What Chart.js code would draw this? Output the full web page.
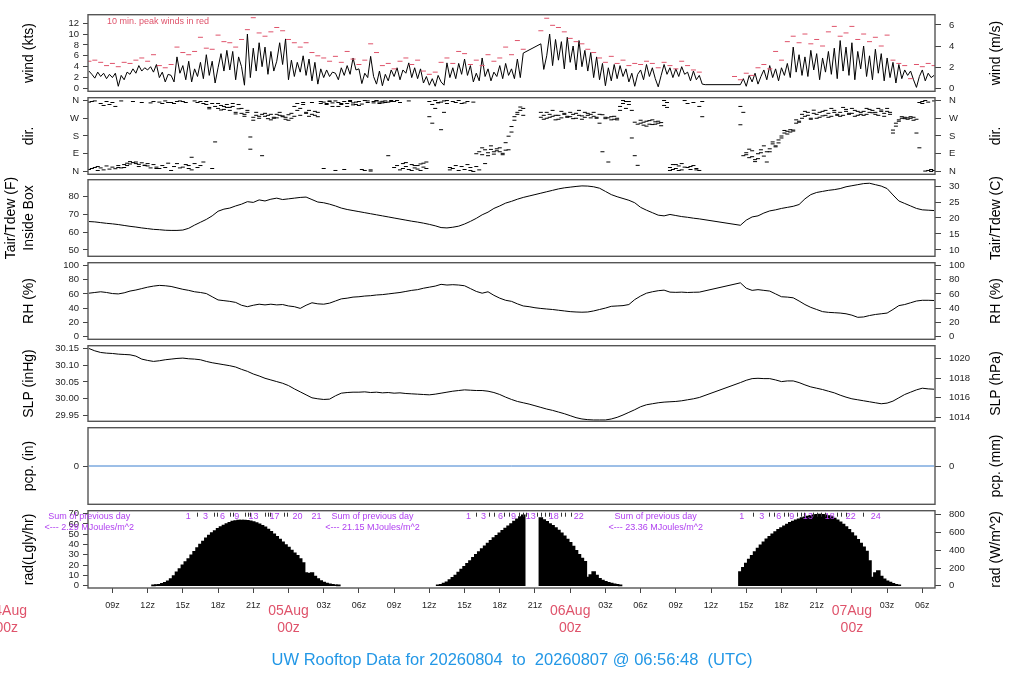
<!DOCTYPE html>
<html>
<head>
<meta charset="utf-8">
<title>UW Rooftop Data</title>
<script src="https://cdn.jsdelivr.net/npm/chart.js@4.4.1/dist/chart.umd.min.js"></script>
<style>
  html, body { margin:0; padding:0; background:#ffffff; }
  body { position:relative; width:1024px; height:700px; overflow:hidden; }
  canvas { position:absolute; left:0; }
</style>
</head>
<body>
<script>
// ================= DATA (time = hours since 04Aug 00z) =================
const startHour = 7.0;
const fineStep = 0.25;   // wind / direction / radiation sampling
const coarseStep = 0.5;  // peak wind / temperature / RH / pressure sampling

// mean wind (kts), every 15 min from 04Aug 07z
const windKts = [
3.2,2.6,1.9,3.0, 2.2,2.8,1.8,2.6, 2.0,2.8,0.4,2.4, 1.6,3.0,2.6,3.6,
2.8,4.2,3.2,3.8, 3.4,4.0,3.0,4.4, 2.0,3.0,1.2,2.6, 2.4,1.2,5.8,2.8,
4.2,1.6,5.0,1.2, 3.6,2.2,4.8,1.8, 6.2,2.4,5.0,1.0, 3.8,6.4,3.2,7.0,
3.4,6.8,1.6,5.8, 4.0,0.6,10.0,2.0, 7.4,3.2,8.4,4.0, 7.6,2.6,6.8,3.2,
5.0,8.4,4.4,9.1, 1.6,5.2,2.2,4.8, 3.0,6.0,2.4,5.4, 1.4,4.8,0.8,3.6,
2.0,3.4,2.2,3.0, 2.8,1.6,3.8,2.4, 4.2,2.6,5.6,3.4, 3.6,0.9,2.8,2.0,
5.9,2.2,0.8,3.2, 0.5,2.6,1.4,3.4, 2.2,3.8,1.6,3.4, 2.8,4.7,2.0,3.8,
1.8,3.6,1.0,2.2, 0.6,1.8,0.4,2.4, 1.2,0.6,4.7,2.0, 3.8,1.8,4.6,2.6,
5.4,2.4,4.2,1.2, 2.8,1.4,5.6,2.2, 3.6,1.4,3.0,2.2, 4.2,1.8,4.6,2.4,
3.6,1.8,5.4,2.0, 6.5,null,null,null, null,null,8.2,3.5, 6.0,10.0,4.2,9.0,
5.2,8.6,3.6,9.4, 4.8,7.8,3.4,8.8, 4.0,7.0,3.2,6.6, 2.0,5.8,1.6,4.6,
0.5,3.8,1.4,4.4, 1.8,4.2,2.2,3.6, 1.2,2.8,0.4,2.6, 3.4,1.6,4.4,2.2,
3.8,1.8,0.3,2.4, 4.4,2.6,3.8,2.0, 3.6,2.2,4.0,2.6, 3.0,1.4,3.2,1.6,
2.4,0.8,0.7,null, null,null,null,null, null,null,null,null, null,null,0.7,1.8,
0.4,2.4,1.2,2.8, 0.8,2.2,3.4,1.6, 4.2,2.0,3.6,1.4, 3.8,2.4,4.6,2.0,
7.6,3.0,6.2,2.4, 5.8,2.2,7.0,3.4, 6.4,1.6,5.6,3.0, 6.8,2.6,7.4,1.8,
8.8,3.2,7.6,2.4, 8.4,1.6,6.8,3.6, 7.8,2.2,6.0,1.6, 7.2,2.8,6.4,1.4,
5.6,2.0,4.8,1.0, 4.4,1.8,3.4,2.4, 3.2,1.6,0.2,2.2, 3.4,1.4,2.8,2.0,
2.4
];

// 10-min peak wind (kts), every 30 min
const peakKts = [
5.0,5.2,4.8,4.2, 4.6,4.0,4.8,4.6, 5.2,5.6,5.0,6.2, 4.2,3.8,4.4,7.6,
6.6,6.2,6.8,9.4, 7.4,7.2,9.8,8.6, 8.4,7.6,9.0,10.8, 13.0,10.2,9.6,10.4,
11.2,10.6,9.0,8.4, 7.6,8.4,6.6,6.0, 5.6,5.0,5.9,4.8, 6.8,5.4,4.4,5.2,
8.2,6.6,4.2,4.6, 3.6,5.0,5.6,4.4, 5.2,3.2,2.6,3.0, 4.8,5.6,4.6,6.8,
6.4,4.4,5.2,4.2, 6.2,5.0,5.6,7.6, 6.2,8.8,7.2,null, null,10.6,12.9,11.6,
11.2,10.4,9.2,8.6, 8.2,7.2,6.6,5.6, 4.8,5.9,4.6,5.2, 4.2,4.6,4.4,5.0,
4.6,3.8,4.8,4.2, 3.6,5.0,4.2,3.4, 3.0,null,null,null, null,null,2.2,1.6,
2.8,2.4,3.8,4.4, 3.6,6.8,5.2,8.6, 9.6,8.4,10.0,8.2, 9.0,7.8,10.4,11.4,
9.6,10.2,11.4,9.0, 10.0,8.6,9.4,7.8, 9.8,5.2,4.6,4.2, 1.8,4.4,4.0,4.6,
4.2
];

// wind direction (degrees), two samples every 15 min
const dirA = [
10,355,20,5, 18,8,28,12, 22,14,30,18, 35,42,38,45, 40,36,44,32, 28,18,35,22,
15,30,20,42, 350,25,355,18, 22,35,15,72, 40,20,30,48, 340,325,15,150, 320,335,315,325,
310,330,300,318, 295,280,310,175, 275,285,270,290, 280,268,290,275, 272,285,278,265, 288,270,330,345,
320,340,295,310, 290,305,278,345, 352,345,358,330, 5,350,340,355, 345,360,338,352, 355,342,360,350,
8,355,360,352, 356,350,80,360, 20,30,8,40, 25,10,35,18, 12,38,22,48, 355,340,360,350,
352,358,345,20, 15,30,5,25, 10,35,20,0, 90,100,85,110, 95,112,88,105, 100,92,146,110,
228,278,300,327, 320,null,null,null, null,null,275,285, 270,290,280,262, 285,272,295,280, 278,290,270,285,
282,275,295,272, 280,270,245,288, 268,272,278,265, 270,330,345,355, 340,310,250,240, 245,235,255,240,
238,252,245,232, 335,350,20,10, 15,28,8,22, 20,10,30,15, 330,278,null,null, null,null,null,null,
null,null,null,null, null,null,237,80, 95,70,105,60, 90,110,78,100, 115,140,130,160, 180,195,204,200,
205,245,255,270, 280,300,270,295, 290,275,305,285, 295,280,310,290, 300,285,315,295, 295,310,285,300,
305,290,315,298, 300,285,312,295, 305,290,195,230, 262,270,275,265, 270,275,265,350, 355,360,5,0,
358
];
const dirB = [
352,15,358,25, 345,335,355,340, 350,330,20,358, 20,30,50,355, 48,25,350,30, 40,348,355,15,
352,345,358,350, 5,345,40,358, 355,350,30,8, 358,350,355,345, 355,318,345,330, 345,312,330,340,
325,345,292,340, 320,290,300,113, 260,300,280,80, 295,285,262,270, 290,300,282,275, 260,295,280,310,
285,350,300,280, 350,285,300,355, 15,340,355,348, 358,330,345,10, 330,355,348,340, 335,10,5,358,
2,348,358,345, 348,358,352,355, 355,360,350,15, 45,358,5,30, 30,5,42,15, 278,245,320,348,
212,300,360,8, 355,350,360,345, 348,355,5,352, 25,8,120,40, 80,130,100,115, 120,85,108,179,
200,260,290,310, 285,null,null,null, null,null,300,265, 300,275,310,285, 265,305,290,275, 300,268,295,310,
265,300,285,290, 300,275,290,100, 275,48,262,280, 262,310,360,320, 355,170,80,31, 260,250,230,258,
262,240,255,248, 360,325,5,35, 35,5,40,360, 345,25,350,8, 5,355,null,null, null,null,null,null,
null,null,null,null, null,null,330,300, 85,113,75,50, 65,95,130,48, 100,150,125,145, 170,208,190,212,
210,262,250,290, 305,285,265,311, 270,300,282,310, 275,320,300,285, 280,325,305,290, 320,280,305,290,
285,320,300,310, 290,320,305,280, 320,300,210,245, 255,278,268,272, 278,260,195,120, 345,2,352,10,
5
];

// inside-box air temperature (F), every 30 min
const tempF = [
66.0,65.8, 65.4,65.0, 64.7,64.3, 63.8,63.3, 62.9,62.4, 62.0,61.6, 61.4,61.1, 61.0,61.0,
61.2,62.2, 64.0,65.6, 67.2,69.2, 71.8,73.0, 73.6,74.8, 75.8,77.2, 76.8,78.2, 77.6,78.6,
79.2,78.4, 78.8,79.2, 79.6,79.8, 78.4,77.0, 76.6,75.8, 74.8,73.6, 72.8,72.2, 71.6,71.0,
70.4,69.8, 69.2,68.6, 68.0,67.4, 66.8,66.2, 65.7,65.1, 64.4,63.6, 62.6,62.4, 62.8,63.4,
64.6,66.1, 67.8,69.8, 71.3,73.4, 74.8,76.4, 77.4,78.6, 79.6,80.4, 81.2,82.0, 82.8,83.6,
84.4,85.0, 85.4,85.8, 86.1,86.0, 85.6,84.8, 83.0,81.2, 80.0,79.0, 78.0,76.6, 74.0,72.4,
71.0,69.6, 69.2,70.0, 69.4,68.8, 68.4,67.9, 67.5,null, null,null, null,null, null,63.9,
66.8,68.6, 69.2,70.8, 72.0,72.6, 73.4,74.0, 74.6,75.6, 78.8,81.2, 82.4,83.0, 83.6,84.0,
84.6,85.6, 86.2,86.8, 87.4,87.6, 86.8,86.0, 84.6,81.0, 77.6,76.2, 74.8,73.4, 72.6,72.4,
72.2
];

// relative humidity (%), every 30 min
const rhPct = [
61,62, 63,62, 60.5,60, 61.5,64, 65.5,67.5, 69.5,71, 72,71.5, 70.5,68.5,
66.5,65, 63,62, 60.5,56, 51.5,50.5, 49.5,48, 44,42, 44,45.5, 44.5,45.5,
44.5,45, 43,42, 39.6,44, 47.5,46, 45.5,47, 50,53, 54,55.5, 56,57,
57.5,58.5, 59,60, 61,62, 63.5,65, 66,68, 69.5,71, 73.5,72.5, 73,72.5,
71.5,67.5, 63.5,61, 63,58, 54,51, 49.5,46, 43,42, 40.5,39.5, 38.7,38,
37,36, 35,34.5, 34.2,34.5, 36,38, 40,42.5, 43,43.5, 45,52, 57,61,
63,64.5, 65.3,62.5, 62.2,62.5, 62,62.3, 62.5,null, null,null, null,null, null,75.6,
68,65, 66,65, 64,60, 56,55.5, 54.5,50, 45,41, 38,35, 34,33.5,
33,32, 30,27, 27.5,29.5, 31,32, 33,38, 43.5,45, 47.5,50, 51,51,
50.7
];

// sea level pressure (inHg), every 30 min
const slpInHg = [
30.151,30.144, 30.139,30.137, 30.136,30.134, 30.133,30.132, 30.128,30.119, 30.115,30.112, 30.114,30.117, 30.119,30.121,
30.122,30.120, 30.119,30.117, 30.112,30.108, 30.105,30.102, 30.099,30.095, 30.088,30.082, 30.074,30.068, 30.061,30.056,
30.051,30.046, 30.039,30.029, 30.020,30.011, 30.002,29.999, 29.997,29.998, 30.008,30.016, 30.018,30.019, 30.019,30.020,
30.018,30.019, 30.017,30.018, 30.016,30.017, 30.015,30.014, 30.013,30.012, 30.011,30.013, 30.016,30.019, 30.022,30.024,
30.026,30.025, 30.024,30.024, 30.022,30.018, 30.012,30.004, 29.997,29.991, 29.987,29.983, 29.978,29.973, 29.968,29.964,
29.959,29.954, 29.948,29.942, 29.938,29.936, 29.935,29.935, 29.935,29.938, 29.943,29.950, 29.958,29.966, 29.975,29.981,
29.984,29.987, 29.989,29.990, 29.991,29.993, 29.996,29.999, 30.003,null, null,null, null,null, null,30.048,
30.055,30.060, 30.061,30.060, 30.060,30.056, 30.051,30.053, 30.053,30.048, 30.041,30.035, 30.031,30.027, 30.022,30.017,
30.010,30.004, 29.999,29.996, 29.993,29.990, 29.987,29.984, 29.986,29.992, 30.002,30.012, 30.019,30.026, 30.031,30.029,
30.028
];

// precipitation (in): none during the period
const pcpHours = [7.0, 79.0];
const pcpIn = [0, 0];

// solar radiation (Langley/hr), every 15 min during daylight
const radStartHours = [12.5, 36.75, 62.5];
const radDay1 = [
0.3,0.6,1.0,1.8,2.8,4.4,6.5,9.5,13.0,16.2,19.8,23.0,25.8,29.5,33.0,36.5,
40.0,43.0,46.0,48.8,51.2,53.0,55.2,57.0,58.5,60.0,61.2,62.2,62.8,63.2,63.4,63.4,
63.0,62.6,61.8,60.8,59.6,58.2,56.8,54.6,52.4,49.9,47.4,44.8,42.2,39.6,37.0,34.2,
31.6,29.0,25.8,22.0,12.4,11.6,12.3,9.0,6.4,4.6,3.0,2.0,1.3,0.8,0.4,0.2
];
const radDay2 = [
0.5,1.0,2.0,3.4,5.4,7.6,10.0,12.8,15.6,18.4,21.2,24.0,27.0,30.0,32.8,35.6,
38.4,41.0,43.6,46.2,48.6,51.0,53.4,55.6,57.8,60.0,62.4,64.4,66.6,68.4,
null,null,null,null,null,
65.6,63.8,62.0,60.0,58.2,56.0,53.6,51.0,48.0,44.8,41.6,38.0,34.0,30.0,26.4,23.2,
8.0,10.4,13.4,10.0,6.8,5.0,3.8,2.8,2.0,1.4,0.8,0.3
];
const radDay3 = [
13.4,17.5,21.5,25.4,29.0,32.6,36.0,39.2,42.2,45.0,47.6,50.0,52.2,54.2,56.0,57.8,
59.4,61.0,62.4,63.6,64.6,65.6,66.4,67.2,67.8,68.4,68.8,69.0,68.8,68.4,67.6,66.6,
65.2,63.6,61.6,59.4,57.0,54.2,51.2,48.0,44.6,41.0,37.2,33.2,24.0,8.0,12.2,14.2,
9.0,6.2,4.4,3.0,1.8,1.0,0.4
];

// cumulative daily radiation markers (MJ/m^2) on the radiation panel
const mjLabels1 = ['1','3','6','9','13','17','20','21'];
const mjHours1  = [15.47,16.92,18.37,19.6,21.01,22.8,24.77,26.38];
const mjTicks1  = [16.21,17.63,17.92,19.05,19.28,20.33,20.53,20.76,22.04,22.23,22.4,23.6,23.89];
const mjLabels2 = ['1','3','6','9','13','18','22'];
const mjHours2  = [39.34,40.62,42.07,43.18,44.63,46.59,48.72];
const mjTicks2  = [40.0,41.05,41.5,42.4,42.75,43.6,43.95,44.2,45.14,45.5,45.84,46.18,47.2,47.6,48.04];
const mjLabels3 = ['1','3','6','9','13','18','22','24'];
const mjHours3  = [62.62,64.33,65.77,66.88,68.25,70.12,71.91,74.04];
const mjTicks3  = [63.56,64.92,65.35,66.2,66.54,67.3,67.65,67.9,68.7,69.0,69.35,69.7,70.7,71.06,71.5,72.93];
const prevDaySums = ['2.29','21.15','23.36'];
const prevDaySumHours = [7.03, 31.16, 55.28];

// axis ticks
const xTickHours = [9,12,15,18,21,24,27,30,33,36,39,42,45,48,51,54,57,60,63,66,69,72,75,78];
const dayLabelHours = [0,24,48,72];
const dayLabels = ['04Aug','05Aug','06Aug','07Aug'];
const windTicksKts = [0,2,4,6,8,10,12];
const windTicksMs = [0,2,4,6];
const dirTicks = [0,90,180,270,360];
const dirNames = ['N','E','S','W','N'];
const tempTicksF = [50,60,70,80];
const tempTicksC = [10,15,20,25,30];
const rhTicks = [0,20,40,60,80,100];
const slpTicksInHg = [29.95,30.00,30.05,30.10,30.15];
const slpTicksHPa = [1014,1016,1018,1020];
const pcpTicks = [0];
const radTicksLy = [0,10,20,30,40,50,60,70];
const radTicksW = [0,200,400,600,800];

const titleText = 'UW Rooftop Data for 20260804  to  20260807 @ 06:56:48  (UTC)';

// ================= LAYOUT / STYLE =================
const FONT = '"Liberation Sans", Arial, Helvetica, sans-serif';
const X_MIN = 6.92, X_MAX = 79.08;
const PAGE_W = 1024, PAGE_H = 700;
const PLOT_LEFT = 88, PLOT_RIGHT = 935;
const PAD = 12;
const RED = '#DF536B', BLUE = '#2297E6', PURPLE = '#B040F0';
const KT2MS = 0.514444, IN2HPA = 33.8639, LY2W = 11.622;
const fToC = f => (f - 32) / 1.8;

const WIND_RANGE = [-0.52, 13.55];
const DIR_RANGE = [-14.4, 374.4];
const TEMP_RANGE = [46.4, 89.6];
const RH_RANGE = [-4, 104];
const SLP_RANGE = [29.931, 30.1595];
const PCP_RANGE = [-1.08, 1.08];
const RAD_RANGE = [-2.2, 72.85];

function series(values, start, step) {
  const out = [];
  values.forEach((v, i) => { if (v !== null && v !== undefined) out.push({ x: start + i * step, y: v }); });
  return out;
}
function pairs(xs, ys) { return xs.map((x, i) => ({ x: x, y: ys[i] })); }

function vText(ctx, text, x, y, size, color) {
  ctx.save();
  ctx.translate(x, y);
  ctx.rotate(-Math.PI / 2);
  ctx.font = size + 'px ' + FONT;
  ctx.fillStyle = color || '#000';
  ctx.textAlign = 'center';
  ctx.textBaseline = 'middle';
  ctx.fillText(text, 0, 0);
  ctx.restore();
}
function hText(ctx, text, x, y, size, color, align) {
  ctx.font = size + 'px ' + FONT;
  ctx.fillStyle = color || '#000';
  ctx.textAlign = align || 'center';
  ctx.textBaseline = 'middle';
  ctx.fillText(text, x, y);
}

function yAxis(pos, range, ticks, fmt) {
  return {
    type: 'linear', position: pos, min: range[0], max: range[1],
    afterFit: s => { s.width = (pos === 'left') ? PLOT_LEFT : (PAGE_W - PLOT_RIGHT); },
    afterBuildTicks: s => { s.ticks = ticks.map(v => ({ value: v })); },
    ticks: {
      font: { family: FONT, size: 9.5 }, color: '#1e1e1e', autoSkip: false,
      padding: pos === 'left' ? 4 : 8,
      callback: fmt || (v => String(v))
    },
    grid: { drawOnChartArea: false, drawTicks: true, tickLength: pos === 'left' ? 5 : 6, color: '#444', lineWidth: 1 },
    border: { display: false }
  };
}

function hourLabel(v) {
  const hh = ((Math.round(v) % 24) + 24) % 24;
  return hh === 0 ? '' : (hh < 10 ? '0' + hh : String(hh)) + 'z';
}

function decoPlugin(p) {
  return {
    id: 'deco_' + p.name,
    afterDraw(chart) {
      const ctx = chart.ctx, a = chart.chartArea;
      ctx.save();
      ctx.strokeStyle = '#555';
      ctx.lineWidth = 1.4;
      ctx.strokeRect(a.left, a.top, a.right - a.left, a.bottom - a.top);
      const cy = (a.top + a.bottom) / 2;
      if (p.leftTitle.length === 1) {
        vText(ctx, p.leftTitle[0], 29, cy, 14);
      } else {
        vText(ctx, p.leftTitle[0], 11, cy, 14);
        vText(ctx, p.leftTitle[1], 29, cy, 14);
      }
      vText(ctx, p.rightTitle, 996, cy, 14);
      if (p.extra) p.extra(chart, ctx, a);
      ctx.restore();
    }
  };
}

function makePanel(p) {
  const cTop = p.top - PAD;
  const cH = p.xAxis ? (PAGE_H - cTop) : (p.bottom - p.top + 2 * PAD);
  const cv = document.createElement('canvas');
  cv.width = PAGE_W; cv.height = cH;
  cv.style.top = cTop + 'px';
  cv.style.width = PAGE_W + 'px';
  cv.style.height = cH + 'px';
  document.body.appendChild(cv);

  const xScale = p.xAxis ? {
    type: 'linear', position: 'bottom', min: X_MIN, max: X_MAX, offset: false,
    afterFit: s => { s.height = PAGE_H - p.bottom; },
    afterBuildTicks: s => { s.ticks = xTickHours.map(v => ({ value: v })); },
    ticks: { font: { family: FONT, size: 9 }, color: '#1e1e1e', padding: 7, maxRotation: 0, autoSkip: false, callback: hourLabel },
    grid: { drawOnChartArea: false, drawTicks: true, tickLength: 5, color: '#444', offset: false },
    border: { display: false }
  } : { type: 'linear', min: X_MIN, max: X_MAX, display: false, offset: false, grid: { offset: false } };

  return new Chart(cv, {
    type: p.type,
    data: { datasets: p.datasets },
    options: {
      responsive: false, maintainAspectRatio: false, animation: false,
      layout: { padding: { top: PAD, bottom: p.xAxis ? 0 : PAD, left: 0, right: 0 } },
      plugins: { legend: { display: false }, tooltip: { enabled: false }, title: { display: false } },
      scales: { x: xScale, y: p.yLeft, y2: p.yRight }
    },
    plugins: [decoPlugin(p)]
  });
}

// ================= PANELS =================
// 1. wind speed
makePanel({
  name: 'wind', type: 'line', top: 13, bottom: 93,
  leftTitle: ['wind (kts)'], rightTitle: 'wind (m/s)',
  yLeft: yAxis('left', WIND_RANGE, windTicksKts),
  yRight: yAxis('right', [WIND_RANGE[0] * KT2MS, WIND_RANGE[1] * KT2MS], windTicksMs),
  datasets: [
    { label: 'peak', data: series(peakKts, startHour, coarseStep), yAxisID: 'y', showLine: false,
      pointStyle: 'line', pointRadius: 2.5, pointBorderWidth: 1, pointBorderColor: RED, borderColor: RED },
    { label: 'wind', data: series(windKts, startHour, fineStep), yAxisID: 'y',
      borderColor: '#000', borderWidth: 1, pointRadius: 0, tension: 0, spanGaps: true }
  ],
  extra: (chart, ctx, a) => { hText(ctx, '10 min. peak winds in red', 107, a.top + 6.5, 9, RED, 'left'); }
});

// 2. wind direction
const dirStyle = { yAxisID: 'y', showLine: false, pointStyle: 'line', pointRadius: 2,
  pointBorderWidth: 1, pointBorderColor: '#000', borderColor: '#000' };
makePanel({
  name: 'dir', type: 'scatter', top: 96, bottom: 176,
  leftTitle: ['dir.'], rightTitle: 'dir.',
  yLeft: yAxis('left', DIR_RANGE, dirTicks, v => dirNames[dirTicks.indexOf(v)]),
  yRight: yAxis('right', DIR_RANGE, dirTicks, v => dirNames[dirTicks.indexOf(v)]),
  datasets: [
    Object.assign({ label: 'dirA', data: series(dirA, startHour, fineStep) }, dirStyle),
    Object.assign({ label: 'dirB', data: series(dirB, startHour, fineStep) }, dirStyle)
  ]
});

// 3. temperature
makePanel({
  name: 'temp', type: 'line', top: 178, bottom: 258,
  leftTitle: ['Tair/Tdew (F)', 'Inside Box'], rightTitle: 'Tair/Tdew (C)',
  yLeft: yAxis('left', TEMP_RANGE, tempTicksF),
  yRight: yAxis('right', [fToC(TEMP_RANGE[0]), fToC(TEMP_RANGE[1])], tempTicksC),
  datasets: [
    { label: 'temp', data: series(tempF, startHour, coarseStep), yAxisID: 'y',
      borderColor: '#000', borderWidth: 1, pointRadius: 0, tension: 0, spanGaps: true }
  ]
});

// 4. relative humidity
makePanel({
  name: 'rh', type: 'line', top: 261, bottom: 341,
  leftTitle: ['RH (%)'], rightTitle: 'RH (%)',
  yLeft: yAxis('left', RH_RANGE, rhTicks),
  yRight: yAxis('right', RH_RANGE, rhTicks),
  datasets: [
    { label: 'rh', data: series(rhPct, startHour, coarseStep), yAxisID: 'y',
      borderColor: '#000', borderWidth: 1, pointRadius: 0, tension: 0, spanGaps: true }
  ]
});

// 5. sea level pressure
makePanel({
  name: 'slp', type: 'line', top: 344, bottom: 423,
  leftTitle: ['SLP (inHg)'], rightTitle: 'SLP (hPa)',
  yLeft: yAxis('left', SLP_RANGE, slpTicksInHg, v => v.toFixed(2)),
  yRight: yAxis('right', [SLP_RANGE[0] * IN2HPA, SLP_RANGE[1] * IN2HPA], slpTicksHPa),
  datasets: [
    { label: 'slp', data: series(slpInHg, startHour, coarseStep), yAxisID: 'y',
      borderColor: '#000', borderWidth: 1, pointRadius: 0, tension: 0, spanGaps: true }
  ]
});

// 6. precipitation
makePanel({
  name: 'pcp', type: 'line', top: 426, bottom: 506,
  leftTitle: ['pcp. (in)'], rightTitle: 'pcp. (mm)',
  yLeft: yAxis('left', PCP_RANGE, pcpTicks),
  yRight: yAxis('right', PCP_RANGE, pcpTicks),
  datasets: [
    { label: 'pcp', data: pairs(pcpHours, pcpIn), yAxisID: 'y',
      borderColor: '#3A7FCF', borderWidth: 1, pointRadius: 0, tension: 0 }
  ]
});

// 7. radiation
const radPoints = [].concat(
  series(radDay1, radStartHours[0], fineStep),
  series(radDay2, radStartHours[1], fineStep),
  series(radDay3, radStartHours[2], fineStep)
);
makePanel({
  name: 'rad', type: 'bar', top: 509, bottom: 588, xAxis: true,
  leftTitle: ['rad(Lgly/hr)'], rightTitle: 'rad (W/m^2)',
  yLeft: yAxis('left', RAD_RANGE, radTicksLy),
  yRight: yAxis('right', [RAD_RANGE[0] * LY2W, RAD_RANGE[1] * LY2W], radTicksW),
  datasets: [
    { label: 'rad', data: radPoints, yAxisID: 'y', backgroundColor: '#000', borderColor: '#000',
      borderWidth: 0, inflateAmount: 0.8, barPercentage: 1.0, categoryPercentage: 1.0 }
  ],
  extra: (chart, ctx, a) => {
    const xs = chart.scales.x;
    const groups = [[mjLabels1, mjHours1, mjTicks1], [mjLabels2, mjHours2, mjTicks2], [mjLabels3, mjHours3, mjTicks3]];
    groups.forEach(g => {
      g[0].forEach((t, i) => hText(ctx, t, xs.getPixelForValue(g[1][i]), a.top + 6, 9, PURPLE));
      ctx.strokeStyle = '#333'; ctx.lineWidth = 1;
      g[2].forEach(h => {
        const px = Math.round(xs.getPixelForValue(h)) + 0.5;
        ctx.beginPath(); ctx.moveTo(px, a.top + 2); ctx.lineTo(px, a.top + 6); ctx.stroke();
      });
    });
    prevDaySums.forEach((s, i) => {
      const px = xs.getPixelForValue(prevDaySumHours[i]);
      hText(ctx, 'Sum of previous day', px, a.top + 6, 9, PURPLE);
      hText(ctx, '<--- ' + s + ' MJoules/m^2', px, a.top + 17, 9, PURPLE);
    });
    dayLabelHours.forEach((h, i) => {
      const px = xs.getPixelForValue(h);
      hText(ctx, dayLabels[i], px, a.bottom + 23, 14, RED);
      hText(ctx, '00z', px, a.bottom + 40, 14, RED);
    });
    hText(ctx, titleText, PAGE_W / 2, a.bottom + 72, 16.5, BLUE);
  }
});
</script>
</body>
</html>
